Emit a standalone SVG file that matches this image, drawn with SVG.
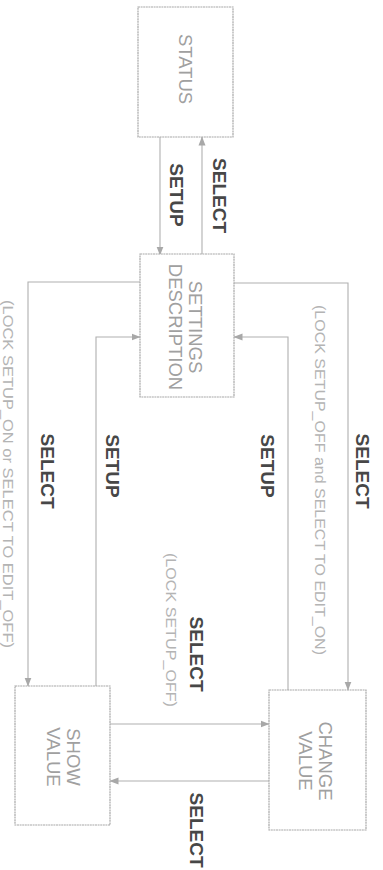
<svg xmlns="http://www.w3.org/2000/svg" width="383" height="870" viewBox="0 0 383 870">
<defs>
<marker id="ah" markerWidth="9" markerHeight="8" refX="8.5" refY="4" orient="auto" markerUnits="userSpaceOnUse">
<path d="M0,0.5 L9,4 L0,7.5 Z" fill="#a8a8a8"/>
</marker>
<style>
.box{fill:#fff;stroke:#a8a8a8;stroke-width:1.2;stroke-dasharray:2 0.6}
.line{fill:none;stroke:#b0b0b0;stroke-width:1.1;marker-end:url(#ah)}
.nt{font-family:"Liberation Sans",Arial,sans-serif;font-size:18.5px;fill:#a0a0a0;text-anchor:middle}
.lb{font-family:"Liberation Sans",Arial,sans-serif;font-size:19px;font-weight:bold;fill:#474747;text-anchor:middle}
.cond{font-family:"Liberation Sans",Arial,sans-serif;font-size:15px;fill:#b4b4b4;text-anchor:middle}
</style>
</defs>
<rect width="383" height="870" fill="#fff"/>
<g id="connectors">
<path class="line" d="M160,137 L160,255"/>
<path class="line" d="M202,255 L202,137"/>
<path class="line" d="M140,282 L28,282 L28,686"/>
<path class="line" d="M96,686 L96,337 L140,337"/>
<path class="line" d="M234,283 L348,283 L348,690"/>
<path class="line" d="M288,690 L288,337 L234,337"/>
<path class="line" d="M110,724 L269,724"/>
<path class="line" d="M269,781 L110,781"/>
</g>
<g id="labels">
<text class="lb" transform="translate(177,195) rotate(90)" y="6.8">SETUP</text>
<text class="lb" transform="translate(220,195.5) rotate(90)" y="6.8">SELECT</text>
<text class="lb" transform="translate(48,471) rotate(90)" y="6.8">SELECT</text>
<text class="lb" transform="translate(113,466) rotate(90)" y="6.8">SETUP</text>
<text class="lb" transform="translate(268,466) rotate(90)" y="6.8">SETUP</text>
<text class="lb" transform="translate(363,471) rotate(90)" y="6.8">SELECT</text>
<text class="lb" transform="translate(197,654) rotate(90)" y="6.8">SELECT</text>
<text class="lb" transform="translate(197,830) rotate(90)" y="6.8">SELECT</text>
<text class="cond" transform="translate(171,630) rotate(90)" y="5.4" textLength="154" lengthAdjust="spacingAndGlyphs">(LOCK SETUP_OFF)</text>
<text class="cond" transform="translate(320,480) rotate(90)" y="5.4" textLength="350" lengthAdjust="spacingAndGlyphs">(LOCK SETUP_OFF and SELECT TO EDIT_ON)</text>
<text class="cond" style="font-size:14px" transform="translate(8,474) rotate(90)" y="5" textLength="348" lengthAdjust="spacingAndGlyphs">(LOCK SETUP_ON or SELECT TO EDIT_OFF)</text>
</g>
<g id="status">
<rect class="box" x="138" y="7" width="95" height="130"/>
<text class="nt" transform="translate(186,69) rotate(90)" y="6.6">STATUS</text>
</g>
<g id="settings">
<rect class="box" x="140" y="254" width="94" height="143"/>
<text class="nt" transform="translate(196,327) rotate(90)" y="6.6">SETTINGS</text>
<text class="nt" transform="translate(176,327) rotate(90)" y="6.6">DESCRIPTION</text>
</g>
<g id="show-value">
<rect class="box" x="15" y="686" width="95" height="139"/>
<text class="nt" transform="translate(74,757) rotate(90)" y="6.6">SHOW</text>
<text class="nt" transform="translate(54,757) rotate(90)" y="6.6">VALUE</text>
</g>
<g id="change-value">
<rect class="box" x="269" y="690" width="97" height="140"/>
<text class="nt" transform="translate(326,761) rotate(90)" y="6.6">CHANGE</text>
<text class="nt" transform="translate(306,761) rotate(90)" y="6.6">VALUE</text>
</g>
</svg>
